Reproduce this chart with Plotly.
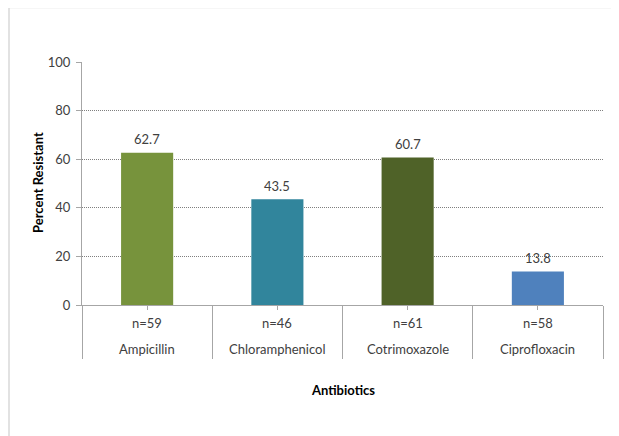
import plotly.graph_objects as go

categories = ["Ampicillin", "Chloramphenicol", "Cotrimoxazole", "Ciprofloxacin"]
percent_resistant = [62.7, 43.5, 60.7, 13.8]
sample_sizes = ["n=59", "n=46", "n=61", "n=58"]
bar_colors = ["#77933C", "#31859C", "#4F6228", "#4F81BD"]
y_ticks = [0, 20, 40, 60, 80, 100]

FONT = "Lato"
FS = 13
TXT = "#404040"
OFF = 8  # default page body margin
W, H = 619 - OFF, 436 - OFF
# plot area in screen pixels: x 82..603, y 62..305
L, T = 82 - OFF, 62 - OFF
R = W - (603 - OFF)
B = H - (305 - OFF)
pw, ph = W - L - R, H - T - B

def sx(px):  # screen x -> paper
    return (px - OFF - L) / pw

def sy(py):  # screen y -> paper
    return (H - B - (py - OFF)) / ph

fig = go.Figure()
fig.add_trace(go.Bar(
    x=categories, y=percent_resistant,
    marker=dict(color=bar_colors, line=dict(width=0)),
    xaxis="x", yaxis="y", hoverinfo="x+y",
))
fig.add_trace(go.Bar(x=categories, y=[0]*len(categories), xaxis="x2", yaxis="y",
                     showlegend=False, hoverinfo="skip", marker=dict(opacity=0)))

annotations = []
for c, v, n in zip(categories, percent_resistant, sample_sizes):
    annotations.append(dict(x=c, y=v, xref="x", yref="y", text=f"{v:.1f}",
                            showarrow=False, yanchor="middle", yshift=13.5,
                            font=dict(family=FONT, size=FS, color=TXT)))
    annotations.append(dict(x=c, y=sy(323), xref="x", yref="paper",
                            text=n, showarrow=False, yanchor="middle",
                            font=dict(family=FONT, size=FS, color=TXT)))
    annotations.append(dict(x=c, y=sy(349), xref="x", yref="paper",
                            text=c, showarrow=False, yanchor="middle",
                            font=dict(family=FONT, size=FS, color=TXT)))
annotations.append(dict(x=0.5, y=sy(390), xref="paper", yref="paper",
                        text="<b>Antibiotics</b>", showarrow=False, yanchor="middle",
                        font=dict(family=FONT, size=FS, color="#000000")))
annotations.append(dict(x=sx(38), y=sy(183), xref="paper", yref="paper",
                        text="<b>Percent Resistant</b>", showarrow=False, textangle=-90,
                        xanchor="center", yanchor="middle",
                        font=dict(family=FONT, size=FS, color="#000000")))

shapes = [
    dict(type="line", xref="paper", yref="paper",
         x0=sx(9), x1=sx(640), y0=sy(7.5), y1=sy(7.5),
         line=dict(color="#d9d9d9", width=1.5)),
    dict(type="line", xref="paper", yref="paper",
         x0=sx(9), x1=sx(9), y0=sy(7.5), y1=sy(460),
         line=dict(color="#d9d9d9", width=1.5)),
]

fig.update_layout(
    width=W, height=H,
    margin=dict(l=L, r=R, t=T, b=B, autoexpand=False),
    paper_bgcolor="white", plot_bgcolor="white",
    showlegend=False,
    bargap=0.6,
    barmode="overlay",
    font=dict(family=FONT, size=FS, color=TXT),
    xaxis=dict(
        type="category", categoryorder="array", categoryarray=categories,
        showticklabels=False, tickson="boundaries", ticks="outside",
        ticklen=53, tickcolor="#a6a6a6", tickwidth=1,
        showline=True, linecolor="#a6a6a6", linewidth=1,
        showgrid=False, zeroline=False, range=[-0.5, 3.5], fixedrange=True,
    ),
    xaxis2=dict(
        type="category", categoryorder="array", categoryarray=categories,
        overlaying="x", matches="x", side="bottom",
        showticklabels=False, ticks="outside", ticklen=4,
        tickcolor="#a6a6a6", tickwidth=1, showline=False, showgrid=False,
    ),
    yaxis=dict(
        range=[0, 100], tickvals=y_ticks, ticks="outside", ticklen=5,
        tickcolor="#a6a6a6", showline=True, linecolor="#a6a6a6", linewidth=1,
        showgrid=True, gridcolor="#7f7f7f", griddash="1px,1px", gridwidth=1,
        zeroline=False, tickfont=dict(family=FONT, size=FS, color=TXT),
        ticklabelstandoff=3,
    ),
    annotations=annotations,
    shapes=shapes,
)

fig.write_html("out.html")
